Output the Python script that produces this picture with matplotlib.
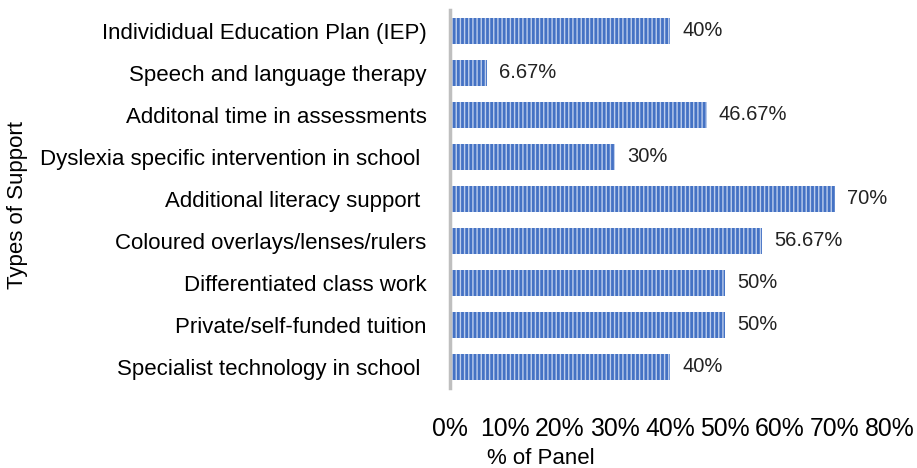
import matplotlib
matplotlib.use('Agg')
import matplotlib.pyplot as plt

# Data (top to bottom as shown)
categories = ['Individidual Education Plan (IEP)',
              'Speech and language therapy',
              'Additonal time in assessments',
              'Dyslexia specific intervention in school ',
              'Additional literacy support ',
              'Coloured overlays/lenses/rulers',
              'Differentiated class work',
              'Private/self-funded tuition',
              'Specialist technology in school ']
values = [40, 6.67, 46.67, 30, 70, 56.67, 50, 50, 40]
value_labels = ['40%', '6.67%', '46.67%', '30%', '70%', '56.67%', '50%', '50%', '40%']
xticks = [0, 10, 20, 30, 40, 50, 60, 70, 80]

plt.rcParams['font.family'] = ['Liberation Sans', 'DejaVu Sans']
plt.rcParams['hatch.color'] = '#bccdec'
plt.rcParams['hatch.linewidth'] = 1.0

fig = plt.figure(figsize=(9.17, 4.68), dpi=100)
ax = fig.add_axes([450/917, 80/468, 440/917, 378/468])

ypos = list(range(len(categories)))
ax.barh(ypos, values, height=0.62, color='#4472c4', hatch='||||', linewidth=0)

for y, v, lab in zip(ypos, values, value_labels):
    ax.text(v + 2.2, y, lab, va='center', ha='left', fontsize=14.5, color='#222222')

ax.set_xlim(0, 80)
ax.set_ylim(len(categories) - 0.5, -0.5)
ax.set_yticks(ypos)
ax.set_yticklabels(categories, fontsize=16)
ax.set_xticks(xticks)
ax.set_xticklabels([str(t) + '%' for t in xticks], fontsize=17.8)
ax.tick_params(axis='both', length=0)
ax.tick_params(axis='y', pad=17)
ax.tick_params(axis='x', pad=21)

for s in ['top', 'right', 'bottom']:
    ax.spines[s].set_visible(False)
ax.spines['left'].set_color('#bfbfbf')
ax.spines['left'].set_linewidth(2.5)

fig.text(18/917, (468 - 205)/468, 'Types of Support', rotation=90, va='center', ha='center', fontsize=16)
fig.text(541/917, (468 - 459)/468, '% of Panel', va='center', ha='center', fontsize=16)

fig.savefig('out.png', dpi=100)
